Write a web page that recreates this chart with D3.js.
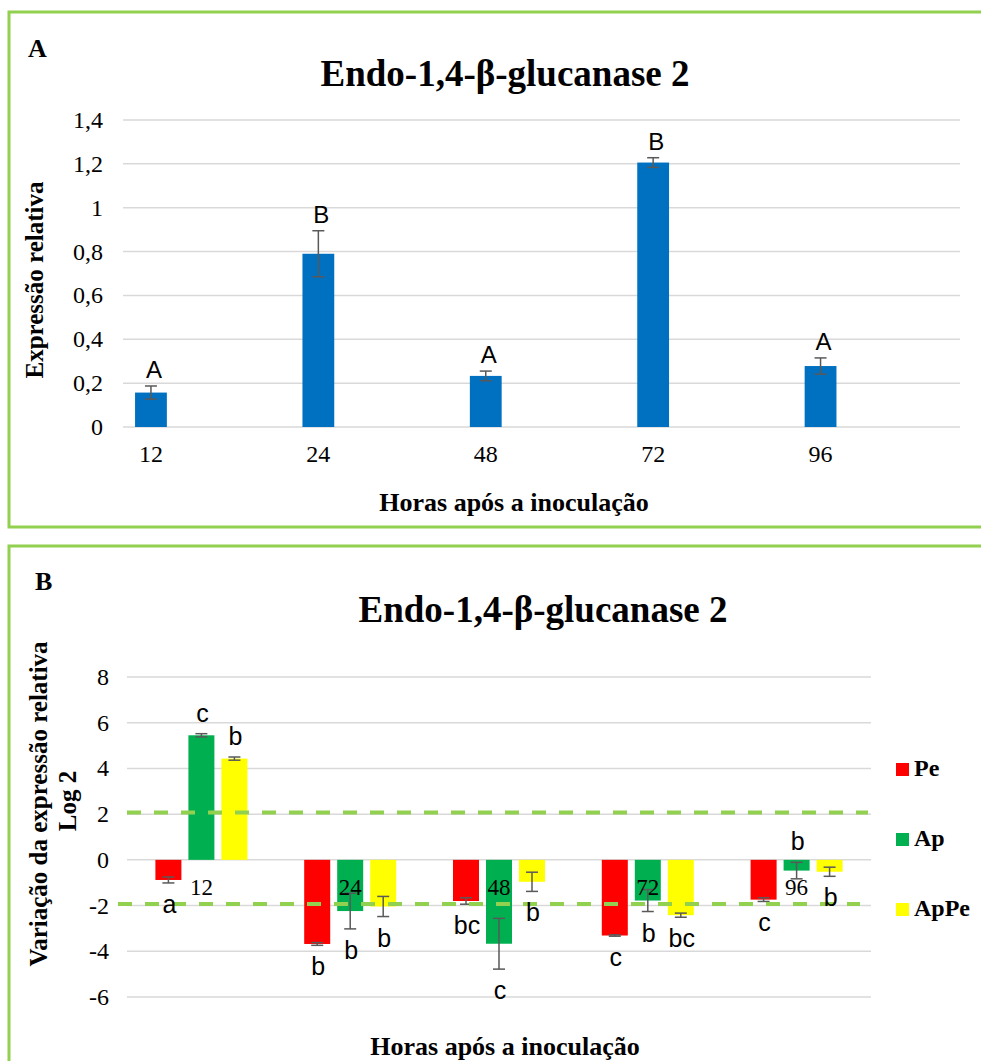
<!DOCTYPE html>
<html>
  <head>
    <meta charset="utf-8">
    <title>Endo-1,4-β-glucanase 2</title>
    <style>
      body { margin: 0; background: #fff; }
      svg text { fill: #000; }
    </style>
  </head>
  <body>
    <svg id="chart" width="981" height="1061"></svg>
    <script src="https://d3js.org/d3.v7.min.js"></script>
    <script>
      // ---- data ----
      var hours = ['12', '24', '48', '72', '96'];

      // panel A: relative expression
      var exprValues = [0.157, 0.79, 0.233, 1.206, 0.278];
      var exprErrors = [0.03, 0.105, 0.022, 0.022, 0.037];
      var exprLetters = ['A', 'B', 'A', 'B', 'A'];
      var exprTicks = [0, 0.2, 0.4, 0.6, 0.8, 1, 1.2, 1.4];

      // panel B: log2 change
      var series = ['Pe', 'Ap', 'ApPe'];
      var peValues = [-0.88, -3.68, -1.8, -3.31, -1.74];
      var apValues = [5.45, -2.24, -3.67, -1.78, -0.47];
      var apPeValues = [4.43, -2.04, -0.96, -2.42, -0.52];
      var peErrors = [0.13, 0.06, 0.14, 0.03, 0.08];
      var apErrors = [0.07, 0.78, 1.11, 0.48, 0.36];
      var apPeErrors = [0.07, 0.44, 0.42, 0.09, 0.2];
      var peLetters = ['a', 'b', 'bc', 'c', 'c'];
      var apLetters = ['c', 'b', 'c', 'b', 'b'];
      var apPeLetters = ['b', 'b', 'b', 'bc', 'b'];
      var logTicks = [-6, -4, -2, 0, 2, 4, 6, 8];
      var thresholds = [2.07, -1.93];

      var colors = { Pe: '#FF0000', Ap: '#00B050', ApPe: '#FFFF00' };
      var serif = '"Liberation Serif", "Times New Roman", serif';
      var sans = '"Liberation Sans", Arial, sans-serif';
      var frameColor = '#92D050';
      var gridColor = '#D9D9D9';
      var errColor = '#595959';

      var svg = d3.select('#chart');
      var fmt = function(v) { return String(v).replace('.', ','); };

      // small helper so every label gets the same font handling
      function label(g, x, y, str, size, opts) {
        opts = opts || {};
        return g.append('text')
          .attr('x', x).attr('y', y)
          .attr('text-anchor', opts.anchor || 'middle')
          .attr('font-family', opts.family || serif)
          .attr('font-weight', opts.bold ? 'bold' : 'normal')
          .attr('font-size', size)
          .attr('transform', opts.rotate ? 'rotate(-90,' + x + ',' + y + ')' : null)
          .text(str);
      }

      // ---- frames ----
      svg.append('rect').attr('x', 9).attr('y', 12).attr('width', 1000).attr('height', 515)
        .attr('fill', 'none').attr('stroke', frameColor).attr('stroke-width', 3);
      svg.append('rect').attr('x', 9).attr('y', 546).attr('width', 1000).attr('height', 600)
        .attr('fill', 'none').attr('stroke', frameColor).attr('stroke-width', 3);

      // ================= panel A =================
      var gA = svg.append('g');
      var xA = d3.scaleBand().domain(hours).range([123, 960]);
      var yA = d3.scaleLinear().domain([0, 1.4]).range([427, 120]);
      var bwA = xA.bandwidth();
      var barLeftA = function(h) { return xA(h) + bwA * 0.072; };
      var barWA = bwA * 0.19;
      var centerA = function(h) { return barLeftA(h) + barWA / 2; };

      label(gA, 28, 57, 'A', 26, { bold: true, anchor: 'start' });
      label(gA, 505, 86, 'Endo-1,4-β-glucanase 2', 37, { bold: true });

      gA.selectAll('line.grid').data(exprTicks).join('line').attr('class', 'grid')
        .attr('x1', 123).attr('x2', 960)
        .attr('y1', function(d) { return yA(d); }).attr('y2', function(d) { return yA(d); })
        .attr('stroke', gridColor).attr('stroke-width', 1.5);
      exprTicks.forEach(function(t) {
        label(gA, 103, yA(t) + 8, fmt(t), 24, { anchor: 'end' });
      });

      gA.selectAll('rect.bar').data(hours).join('rect').attr('class', 'bar')
        .attr('x', barLeftA).attr('width', barWA)
        .attr('y', function(h, i) { return yA(exprValues[i]); })
        .attr('height', function(h, i) { return yA(0) - yA(exprValues[i]); })
        .attr('fill', '#0070C0');

      hours.forEach(function(h, i) {
        var cx = centerA(h);
        var top = yA(exprValues[i] + exprErrors[i]);
        var bot = yA(exprValues[i] - exprErrors[i]);
        gA.append('line').attr('x1', cx).attr('x2', cx).attr('y1', top).attr('y2', bot)
          .attr('stroke', errColor).attr('stroke-width', 1.5);
        [top, bot].forEach(function(yy) {
          gA.append('line').attr('x1', cx - 6).attr('x2', cx + 6).attr('y1', yy).attr('y2', yy)
            .attr('stroke', errColor).attr('stroke-width', 1.5);
        });
        label(gA, cx + 3, top - 8, exprLetters[i], 24, { family: sans });
        label(gA, cx, 462, h, 24);
      });

      label(gA, 43, 280, 'Expressão relativa', 25, { bold: true, rotate: true });
      label(gA, 514, 511, 'Horas após a inoculação', 26, { bold: true });

      // ================= panel B =================
      var gB = svg.append('g');
      var xB = d3.scaleBand().domain(hours).range([127, 871]);
      var inner = d3.scaleBand().domain(series).range([0, 92]).paddingInner(0.212);
      var yB = d3.scaleLinear().domain([-6, 8]).range([997, 677]);
      var groupCenter = function(h) { return xB(h) + xB.bandwidth() / 2; };
      var barLeftB = function(h, s) { return groupCenter(h) - 46 + inner(s); };

      var values = { Pe: peValues, Ap: apValues, ApPe: apPeValues };
      var errors = { Pe: peErrors, Ap: apErrors, ApPe: apPeErrors };
      var letters = { Pe: peLetters, Ap: apLetters, ApPe: apPeLetters };

      label(gB, 35, 590, 'B', 26, { bold: true, anchor: 'start' });
      label(gB, 543, 622, 'Endo-1,4-β-glucanase 2', 37, { bold: true });

      gB.selectAll('line.grid').data(logTicks).join('line').attr('class', 'grid')
        .attr('x1', 127).attr('x2', 871)
        .attr('y1', function(d) { return yB(d); }).attr('y2', function(d) { return yB(d); })
        .attr('stroke', gridColor).attr('stroke-width', 1.5);
      logTicks.forEach(function(t) {
        label(gB, 109, yB(t) + 8, t, 24, { anchor: 'end' });
      });

      var flat = [];
      hours.forEach(function(h, i) {
        series.forEach(function(s) {
          flat.push({ h: h, s: s, v: values[s][i], e: errors[s][i], l: letters[s][i] });
        });
      });

      gB.selectAll('rect.bar').data(flat).join('rect').attr('class', 'bar')
        .attr('x', function(d) { return barLeftB(d.h, d.s); })
        .attr('width', inner.bandwidth())
        .attr('y', function(d) { return yB(Math.max(0, d.v)); })
        .attr('height', function(d) { return Math.abs(yB(d.v) - yB(0)); })
        .attr('fill', function(d) { return colors[d.s]; });

      flat.forEach(function(d) {
        var cx = barLeftB(d.h, d.s) + inner.bandwidth() / 2;
        var top = yB(d.v + d.e), bot = yB(d.v - d.e);
        gB.append('line').attr('x1', cx).attr('x2', cx).attr('y1', top).attr('y2', bot)
          .attr('stroke', errColor).attr('stroke-width', 1.5);
        [top, bot].forEach(function(yy) {
          gB.append('line').attr('x1', cx - 6).attr('x2', cx + 6).attr('y1', yy).attr('y2', yy)
            .attr('stroke', errColor).attr('stroke-width', 1.5);
        });
      });

      // category labels sit under the zero line
      hours.forEach(function(h) {
        label(gB, groupCenter(h), yB(0) + 35, h, 23);
      });

      // threshold lines
      gB.selectAll('line.thr').data(thresholds).join('line').attr('class', 'thr')
        .attr('x1', function(d, i) { return i === 0 ? 127 : 118; })
        .attr('x2', function(d, i) { return i === 0 ? 868 : 860; })
        .attr('y1', function(d) { return yB(d); }).attr('y2', function(d) { return yB(d); })
        .attr('stroke', frameColor).attr('stroke-width', 4).attr('stroke-dasharray', '14,13');

      // significance letters
      flat.forEach(function(d) {
        var cx = barLeftB(d.h, d.s) + inner.bandwidth() / 2 + 1;
        var above = d.v + d.e > -0.2;
        var yy = above ? yB(d.v + d.e) - 12 : yB(d.v - d.e) + 30;
        label(gB, cx, yy, d.l, 25, { family: sans });
      });

      label(gB, 47, 804, 'Variação da expressão relativa', 25, { bold: true, rotate: true });
      label(gB, 76, 801, 'Log 2', 25, { bold: true, rotate: true });
      label(gB, 505, 1055, 'Horas após a inoculação', 26, { bold: true });

      // legend
      var legend = gB.selectAll('g.leg').data(series).join('g').attr('class', 'leg')
        .attr('transform', function(s, i) { return 'translate(896,' + (763 + i * 70) + ')'; });
      legend.append('rect').attr('width', 13).attr('height', 13)
        .attr('fill', function(s) { return colors[s]; });
      legend.append('text').attr('x', 18).attr('y', 13)
        .attr('font-family', serif).attr('font-weight', 'bold').attr('font-size', 24)
        .text(function(s) { return s; });
    </script>
  </body>
</html>
